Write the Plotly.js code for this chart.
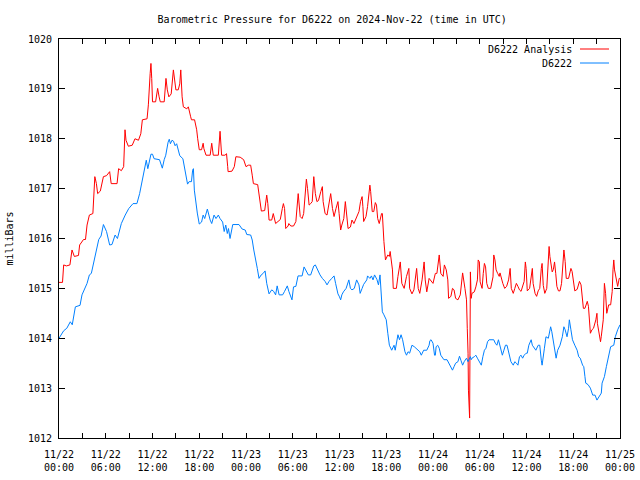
<!DOCTYPE html>
<html>
<head>
<meta charset="utf-8">
<script src="https://cdn.plot.ly/plotly-3.0.1.min.js"></script>
<style>html,body{margin:0;padding:0;background:#fff;}#chart{width:640px;height:480px;}</style>
</head>
<body>
<div id="chart"></div>
<script>
// Hours since 2024-11-22 00:00 UTC and pressure readings (mbar)
const analysisHours = [0.0,0.45,0.6,0.95,1.4,1.67,1.97,2.5,2.65,3.15,3.4,3.6,3.9,4.35,4.6,4.8,4.96,5.3,5.7,6.1,6.5,6.7,7.45,7.65,8.0,8.3,8.47,8.6,8.9,9.4,9.75,10.2,10.5,10.7,11.3,11.47,11.7,11.8,11.9,12.0,12.4,12.66,12.85,13.0,13.5,13.73,13.9,14.1,14.4,14.6,14.68,15.0,15.3,15.5,15.63,15.8,15.96,16.4,16.6,16.9,17.0,17.4,17.67,17.8,18.0,18.3,18.5,18.6,18.87,19.4,19.6,19.8,20.45,20.67,20.8,20.87,21.3,21.5,21.65,21.7,22.2,22.5,22.7,23.25,23.7,24.0,24.3,24.6,24.8,24.95,25.5,25.8,25.97,26.4,26.66,26.8,26.96,27.3,27.5,27.8,28.1,28.4,28.66,28.8,28.95,29.1,29.4,29.5,29.75,30.1,30.4,30.6,30.7,30.96,31.2,31.4,31.6,31.75,31.9,32.1,32.3,32.5,32.7,32.9,33.1,33.3,33.6,33.8,33.9,34.15,34.4,34.66,34.87,35.1,35.3,35.55,35.8,35.95,36.15,36.3,36.55,36.75,36.9,37.1,37.4,37.6,37.85,38.2,38.5,38.7,38.9,39.0,39.1,39.4,39.6,39.9,40.0,40.2,40.4,40.6,40.75,40.9,41.1,41.4,41.5,41.7,41.9,42.2,42.4,42.5,42.8,42.9,43.3,43.5,43.65,43.8,44.0,44.3,44.6,44.8,44.9,45.0,45.3,45.55,45.9,46.1,46.3,46.6,46.86,47.0,47.2,47.5,47.75,48.0,48.3,48.5,48.8,49.0,49.3,49.46,49.7,49.9,50.0,50.3,50.5,50.7,50.9,51.2,51.5,51.8,52.1,52.3,52.4,52.5,52.55,52.7,52.8,52.9,53.0,53.3,53.5,53.7,53.8,53.95,54.05,54.3,54.45,54.6,54.75,54.9,55.1,55.4,55.7,55.8,55.95,56.1,56.3,56.5,56.6,56.8,56.96,57.2,57.45,57.7,57.8,57.9,58.05,58.3,58.5,58.7,58.9,59.1,59.3,59.5,59.7,59.85,59.95,60.1,60.4,60.75,60.85,61.1,61.3,61.5,61.7,61.9,62.0,62.15,62.35,62.6,62.7,62.9,63.0,63.15,63.3,63.45,63.6,63.75,63.9,64.1,64.3,64.5,64.8,64.96,65.1,65.4,65.7,65.85,66.0,66.2,66.5,66.8,67.0,67.2,67.3,67.5,67.8,67.95,68.1,68.2,68.4,68.6,68.9,69.04,69.1,69.3,69.5,69.6,69.85,70.0,70.15,70.3,70.55,70.8,71.0,71.1,71.2,71.3,71.55,71.7,71.9,72.0];
const analysisValues = [1015.12,1015.12,1015.47,1015.45,1015.47,1015.77,1015.64,1015.66,1015.87,1015.98,1015.98,1016.27,1016.47,1016.5,1017.24,1017.1,1016.9,1016.95,1017.24,1017.26,1017.34,1017.1,1017.1,1017.4,1017.36,1017.44,1018.18,1017.97,1017.85,1017.87,1018.0,1017.97,1018.1,1018.38,1018.4,1018.68,1019.31,1019.51,1019.21,1018.74,1018.74,1019.01,1018.84,1018.74,1018.74,1019.21,1018.98,1018.84,1018.9,1019.25,1019.38,1018.98,1018.98,1019.1,1019.38,1018.84,1018.64,1018.6,1018.64,1018.44,1018.38,1018.38,1018.18,1018.0,1017.78,1017.78,1017.91,1017.8,1017.67,1017.67,1017.91,1017.67,1017.67,1018.15,1017.91,1017.67,1017.67,1017.7,1017.44,1017.34,1017.35,1017.44,1017.64,1017.63,1017.58,1017.44,1017.47,1017.47,1017.27,1017.1,1017.08,1016.74,1016.55,1016.56,1016.87,1016.7,1016.37,1016.37,1016.5,1016.3,1016.35,1016.38,1016.6,1016.7,1016.6,1016.2,1016.25,1016.3,1016.25,1016.25,1016.34,1016.7,1016.9,1016.44,1016.4,1016.5,1016.84,1017.19,1017.0,1016.67,1016.7,1016.74,1017.24,1016.9,1016.74,1016.76,1016.94,1017.04,1016.74,1016.5,1016.47,1016.7,1016.9,1016.6,1016.44,1016.6,1016.74,1016.5,1016.17,1016.27,1016.4,1016.74,1016.5,1016.2,1016.23,1016.37,1016.3,1016.44,1016.54,1016.74,1016.84,1016.64,1016.34,1016.44,1016.64,1017.07,1016.94,1016.54,1016.54,1016.72,1016.67,1016.4,1016.3,1016.5,1016.5,1015.94,1015.57,1015.67,1015.64,1015.74,1015.37,1015.0,1015.0,1015.24,1015.37,1015.53,1015.1,1015.0,1015.24,1015.37,1015.4,1015.0,1014.89,1014.97,1015.4,1015.0,1014.9,1015.17,1015.53,1015.17,1014.93,1015.2,1015.15,1015.1,1015.3,1015.3,1015.67,1015.3,1015.24,1015.47,1015.37,1015.17,1014.8,1014.84,1015.0,1014.97,1014.8,1014.77,1014.87,1015.31,1015.0,1014.77,1014.2,1013.7,1012.96,1012.4,1015.33,1014.8,1014.9,1014.93,1015.03,1015.17,1015.57,1015.53,1015.13,1015.0,1015.3,1015.5,1015.43,1015.1,1015.0,1015.0,1015.23,1015.67,1015.57,1015.37,1015.3,1015.24,1015.31,1015.17,1015.1,1015.0,1015.04,1015.17,1015.3,1015.4,1015.0,1014.9,1015.0,1015.1,1015.04,1014.97,1014.94,1015.04,1015.14,1015.53,1015.4,1014.95,1015.0,1015.4,1015.1,1014.9,1014.84,1014.95,1015.0,1015.4,1015.5,1015.06,1014.9,1015.0,1015.27,1015.84,1015.64,1015.43,1015.33,1015.38,1015.53,1015.3,1015.04,1014.95,1014.95,1015.1,1015.77,1015.54,1015.2,1015.2,1015.4,1015.34,1015.17,1014.95,1014.98,1015.14,1015.07,1014.77,1014.6,1014.6,1014.74,1014.64,1014.37,1014.1,1014.17,1014.2,1014.37,1014.5,1014.3,1014.1,1013.93,1014.04,1014.37,1015.1,1014.9,1014.5,1014.67,1014.67,1014.94,1015.37,1015.57,1015.37,1015.14,1015.04,1015.2,1015.2];

const stationHours = [0.0,0.6,1.0,1.45,1.7,2.1,2.7,2.95,3.6,3.9,4.15,4.66,5.1,5.4,5.7,6.1,6.5,6.8,7.2,7.5,8.0,8.5,8.95,9.5,10.0,10.35,10.8,11.2,11.4,11.8,12.0,12.2,12.9,13.26,13.5,13.7,14.0,14.15,14.3,14.5,14.7,14.9,15.1,15.3,15.5,15.9,16.17,16.4,16.5,16.7,17.0,17.15,17.25,17.37,17.55,17.75,18.0,18.3,18.5,18.7,19.04,19.2,19.4,19.6,19.9,20.15,20.45,20.67,21.0,21.2,21.4,21.6,21.75,21.95,22.3,23.1,23.5,23.9,24.1,24.6,24.8,25.0,25.25,25.45,25.67,25.95,26.2,26.45,26.66,26.96,27.3,27.55,27.8,28.0,28.25,28.7,28.95,29.3,29.5,29.74,29.9,30.1,30.4,30.68,31.2,31.45,31.7,32.0,32.3,32.7,32.9,33.1,33.5,33.8,34.15,34.4,34.66,35.0,35.3,35.5,35.8,36.0,36.15,36.3,36.5,36.85,37.2,37.4,37.6,37.9,38.2,38.5,38.65,38.9,39.1,39.5,39.6,39.9,40.1,40.3,40.5,40.8,41.0,41.2,41.3,41.4,41.5,41.7,42.0,42.2,42.4,42.7,43.0,43.15,43.3,43.5,43.7,43.9,44.1,44.4,44.6,44.8,45.0,45.3,45.6,46.0,46.3,46.5,46.8,47.2,47.5,47.6,47.75,48.0,48.2,48.3,48.4,48.6,48.8,49.0,49.2,49.4,49.8,50.0,50.3,50.5,50.7,50.9,51.2,51.4,51.6,51.8,52.0,52.3,52.5,52.7,52.8,52.9,53.0,53.3,53.5,53.7,53.95,54.2,54.4,54.6,54.8,55.0,55.2,55.6,55.8,56.0,56.2,56.4,56.7,56.9,57.1,57.3,57.5,57.8,58.0,58.3,58.5,58.7,58.9,59.1,59.3,59.5,59.7,59.95,60.1,60.3,60.6,60.75,61.0,61.2,61.5,61.7,61.9,62.0,62.3,62.5,62.8,62.95,63.1,63.25,63.4,63.7,63.8,64.0,64.3,64.6,64.8,64.96,65.2,65.4,65.5,65.7,65.9,66.2,66.5,66.7,66.9,67.2,67.35,67.5,67.6,67.9,68.2,68.5,68.8,69.04,69.3,69.6,69.7,70.0,70.25,70.5,70.8,71.2,71.4,71.7,71.9,72.0];
const stationValues = [1014.0,1014.15,1014.2,1014.33,1014.27,1014.63,1014.66,1014.87,1015.1,1015.27,1015.3,1015.7,1015.98,1016.05,1016.28,1016.14,1015.87,1015.88,1016.07,1016.0,1016.3,1016.47,1016.6,1016.7,1016.7,1016.9,1017.3,1017.57,1017.4,1017.69,1017.69,1017.6,1017.58,1017.41,1017.58,1017.67,1017.93,1017.99,1017.9,1017.97,1017.95,1017.86,1017.9,1017.78,1017.66,1017.6,1017.37,1017.17,1017.09,1017.14,1017.14,1017.37,1017.4,1016.97,1016.74,1016.51,1016.29,1016.33,1016.47,1016.4,1016.59,1016.47,1016.37,1016.3,1016.47,1016.4,1016.47,1016.4,1016.33,1016.14,1016.27,1016.1,1016.2,1016.0,1016.28,1016.28,1016.19,1016.17,1016.08,1016.07,1015.97,1015.77,1015.6,1015.4,1015.2,1015.27,1015.3,1015.35,1015.1,1014.89,1014.97,1014.94,1014.87,1015.05,1014.87,1014.87,1014.94,1015.05,1014.94,1014.83,1014.77,1015.03,1015.04,1015.25,1015.25,1015.43,1015.35,1015.27,1015.27,1015.45,1015.47,1015.4,1015.27,1015.2,1015.14,1015.07,1015.14,1015.2,1015.25,1015.1,1014.89,1014.83,1014.77,1014.87,1014.93,1015.0,1015.17,1015.0,1014.97,1015.0,1015.17,1015.07,1014.9,1015.0,1015.08,1015.17,1015.25,1015.2,1015.25,1015.17,1015.27,1015.18,1015.07,1015.27,1014.97,1014.77,1014.53,1014.47,1014.37,1014.1,1013.86,1013.76,1013.86,1013.76,1013.9,1014.07,1013.97,1014.07,1013.97,1013.73,1013.66,1013.73,1013.7,1013.86,1013.83,1013.76,1013.73,1013.66,1013.76,1013.76,1013.86,1013.95,1013.97,1013.9,1013.66,1013.66,1013.83,1013.86,1013.8,1013.66,1013.6,1013.57,1013.57,1013.5,1013.43,1013.36,1013.43,1013.5,1013.53,1013.64,1013.55,1013.46,1013.53,1013.6,1013.53,1013.63,1013.63,1013.57,1013.6,1013.63,1013.66,1013.6,1013.53,1013.46,1013.63,1013.76,1013.8,1013.93,1013.97,1013.97,1013.97,1013.9,1013.86,1013.97,1013.8,1013.66,1013.76,1013.86,1013.86,1013.66,1013.53,1013.46,1013.53,1013.5,1013.46,1013.63,1013.66,1013.6,1013.66,1013.7,1013.7,1013.86,1013.97,1013.86,1013.8,1013.76,1013.86,1013.86,1013.56,1013.46,1013.8,1014.03,1014.0,1014.17,1014.23,1014.13,1013.97,1013.7,1013.6,1013.76,1013.86,1014.03,1014.23,1014.17,1014.03,1014.2,1014.37,1014.17,1013.97,1013.86,1013.76,1013.63,1013.6,1013.46,1013.43,1013.23,1013.1,1013.07,1013.0,1012.86,1012.86,1012.76,1012.83,1012.9,1013.1,1013.23,1013.43,1013.63,1013.83,1013.86,1014.03,1014.17,1014.27,1014.27];

const seriesNames = ["D6222 Analysis", "D6222"];
const seriesColors = ["#ff0000", "#0080ff"];
const tickHours = [0,3,6,9,12,15,18,21,24,27,30,33,36,39,42,45,48,51,54,57,60,63,66,69,72];
const yTicks = [1012,1013,1014,1015,1016,1017,1018,1019,1020];

const baseMs = Date.UTC(2024, 10, 22, 0, 0, 0);
function pad(n){ return (n < 10 ? "0" : "") + n; }
function hourToDate(h){
  const d = new Date(baseMs + Math.round(h * 3600000));
  return d.getUTCFullYear() + "-" + pad(d.getUTCMonth()+1) + "-" + pad(d.getUTCDate()) + " " +
         pad(d.getUTCHours()) + ":" + pad(d.getUTCMinutes()) + ":" + pad(d.getUTCSeconds());
}
function tickLabel(h){
  if (h % 6 !== 0) return "";
  const d = new Date(baseMs + h * 3600000);
  return pad(d.getUTCMonth()+1) + "/" + pad(d.getUTCDate()) + "<br>" + pad(d.getUTCHours()) + ":" + pad(d.getUTCMinutes());
}

const font = {family: "DejaVu Sans Mono, Liberation Mono, monospace", size: 10, color: "#000"};

const traces = [
  {x: analysisHours.map(hourToDate), y: analysisValues, type: "scatter", mode: "lines",
   name: seriesNames[0], line: {color: seriesColors[0], width: 1}},
  {x: stationHours.map(hourToDate), y: stationValues, type: "scatter", mode: "lines",
   name: seriesNames[1], line: {color: seriesColors[1], width: 1}}
];

const lx = (574 - 59) / 561, sx0 = (580 - 59) / 561, sx1 = (609 - 59) / 561;
const ly1 = 1 - (49 - 39) / 399, ly2 = 1 - (63 - 39) / 399;

const layout = {
  width: 640, height: 480,
  margin: {l: 59, r: 20, t: 39, b: 42, pad: 0},
  paper_bgcolor: "#fff", plot_bgcolor: "#fff",
  font: font,
  showlegend: false,
  title: {text: "Barometric Pressure for D6222 on 2024-Nov-22 (time in UTC)",
          font: font, xref: "paper", x: 0.487, xanchor: "center", yref: "container", y: 1 - 19/480, yanchor: "middle"},
  xaxis: {
    type: "date",
    range: [hourToDate(0), hourToDate(72)],
    tickmode: "array",
    tickvals: tickHours.map(hourToDate),
    ticktext: tickHours.map(tickLabel),
    ticks: "inside", ticklen: 5, tickcolor: "#000", tickwidth: 1,
    showline: true, linecolor: "#000", linewidth: 1, mirror: "ticks",
    showgrid: false, zeroline: false,
    tickfont: font, tickangle: 0, ticklabelstandoff: 7
  },
  yaxis: {
    range: [1012, 1020],
    tickmode: "array", tickvals: yTicks, ticktext: yTicks.map(String),
    ticks: "inside", ticklen: 6, tickcolor: "#000", tickwidth: 1,
    showline: true, linecolor: "#000", linewidth: 1, mirror: "ticks",
    showgrid: false, zeroline: false,
    tickfont: font, ticklabelstandoff: 4,
    title: {text: "milliBars", font: font, standoff: 12}
  },
  annotations: [
    {xref: "paper", yref: "paper", x: lx, y: ly1, text: seriesNames[0], showarrow: false, xanchor: "right", yanchor: "middle", font: font},
    {xref: "paper", yref: "paper", x: lx, y: ly2, text: seriesNames[1], showarrow: false, xanchor: "right", yanchor: "middle", font: font}
  ],
  shapes: [
    {type: "line", xref: "paper", yref: "paper", x0: sx0, x1: sx1, y0: ly1, y1: ly1, line: {color: seriesColors[0], width: 1}},
    {type: "line", xref: "paper", yref: "paper", x0: sx0, x1: sx1, y0: ly2, y1: ly2, line: {color: seriesColors[1], width: 1}}
  ]
};

Plotly.newPlot("chart", traces, layout, {staticPlot: true, displayModeBar: false});
</script>
</body>
</html>
